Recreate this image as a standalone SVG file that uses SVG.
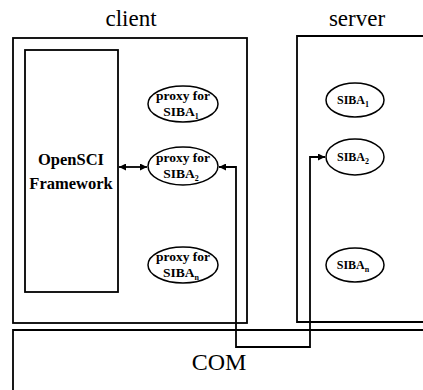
<svg xmlns="http://www.w3.org/2000/svg" width="423" height="390" viewBox="0 0 423 390">
<defs>
<style>
.box{fill:none;stroke:#000;stroke-width:1.8}
.ell{fill:#fff;stroke:#000;stroke-width:1.5}
text{font-family:"Liberation Serif","Times New Roman","DejaVu Serif",serif;fill:#000;text-anchor:middle}
.title{font-size:23px}
.lbl{font-size:16.5px;font-weight:bold}
.sm{font-size:13.5px;font-weight:bold}
.sib{font-size:12px;font-weight:bold}
.sub{font-size:8px}
.con{fill:none;stroke:#000;stroke-width:1.8}
</style>
<marker id="ah" viewBox="0 0 10 10" refX="10" refY="5" markerWidth="8" markerHeight="7" orient="auto-start-reverse" markerUnits="userSpaceOnUse">
<path d="M0,0 L10,5 L0,10 z" fill="#000"/>
</marker>
</defs>
<rect width="423" height="390" fill="#fff"/>
<g id="client">
<text class="title" x="131" y="26">client</text>
<rect class="box" x="13" y="38" width="234" height="285"/>
</g>
<g id="server">
<text class="title" x="357" y="26">server</text>
<path class="box" d="M425,36 H297 V322 H425"/>
</g>
<g id="com">
<path class="box" d="M425,330 H13 V392"/>
<text class="title" x="219" y="370" style="font-size:24px">COM</text>
</g>
<g id="framework">
<rect class="box" x="25" y="50" width="93" height="242"/>
<text class="lbl" x="71" y="165">OpenSCI</text>
<text class="lbl" x="71" y="189">Framework</text>
</g>
<g id="proxy1">
<ellipse class="ell" cx="183" cy="104" rx="35" ry="18"/>
<text class="sm" x="183" y="100">proxy for</text>
<text class="sm" x="181" y="116">SIBA<tspan class="sub" dy="3">1</tspan></text>
</g>
<g id="proxy2">
<ellipse class="ell" cx="183" cy="166" rx="35" ry="19"/>
<text class="sm" x="183" y="162">proxy for</text>
<text class="sm" x="181" y="178">SIBA<tspan class="sub" dy="3">2</tspan></text>
</g>
<g id="proxyn">
<ellipse class="ell" cx="183" cy="265" rx="35" ry="18"/>
<text class="sm" x="183" y="261">proxy for</text>
<text class="sm" x="181" y="277">SIBA<tspan class="sub" dy="3">n</tspan></text>
</g>
<g id="siba1">
<ellipse class="ell" cx="355" cy="100" rx="29" ry="17"/>
<text class="sib" x="353" y="104">SIBA<tspan class="sub" dy="3">1</tspan></text>
</g>
<g id="siba2">
<ellipse class="ell" cx="355" cy="157" rx="29" ry="18"/>
<text class="sib" x="353" y="161">SIBA<tspan class="sub" dy="3">2</tspan></text>
</g>
<g id="siban">
<ellipse class="ell" cx="355" cy="265" rx="29" ry="17"/>
<text class="sib" x="353" y="269">SIBA<tspan class="sub" dy="3">n</tspan></text>
</g>
<g id="connectors">
<path class="con" d="M119,167 H147" marker-start="url(#ah)" marker-end="url(#ah)"/>
<path class="con" d="M325,157 H310 V347 H236 V167 H219" marker-start="url(#ah)" marker-end="url(#ah)"/>
</g>
</svg>
